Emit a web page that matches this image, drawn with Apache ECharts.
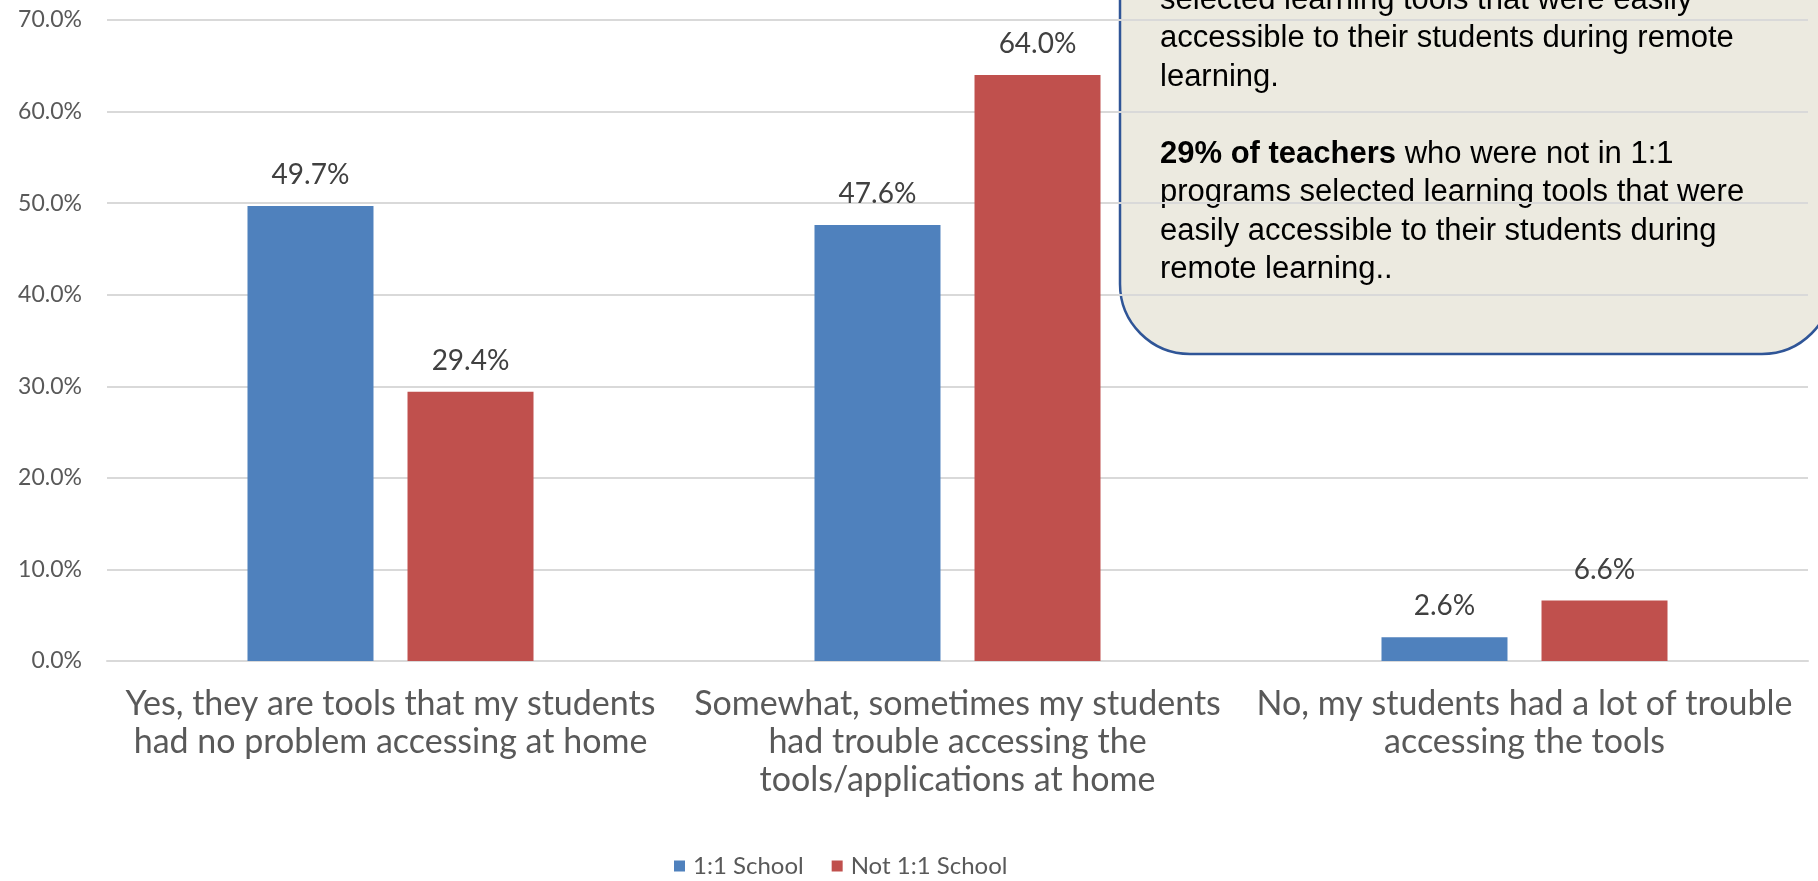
<!DOCTYPE html>
<html>
<head>
<meta charset="utf-8">
<script src="https://cdn.jsdelivr.net/npm/echarts@6/dist/echarts.min.js"></script>
<style>
html,body{margin:0;padding:0;background:#fff;}
#chart{width:1818px;height:881px;}
</style>
</head>
<body>
<div id="chart"></div>
<script>
const categories = [
  'Yes, they are tools that my students\nhad no problem accessing at home',
  'Somewhat, sometimes my students\nhad trouble accessing the\ntools/applications at home',
  'No, my students had a lot of trouble\naccessing the tools'
];
const seriesNames = ['1:1 School', 'Not 1:1 School'];
const oneToOne = [49.7, 47.6, 2.6];
const notOneToOne = [29.4, 64.0, 6.6];
const yTicks = { min: 0, max: 70, interval: 10 };
const noteLines = [
  'selected learning tools that were easily',
  'accessible to their students during remote',
  'learning.',
  '',
  '{b|29% of teachers} who were not in 1:1',
  'programs selected learning tools that were',
  'easily accessible to their students during',
  'remote learning..'
];

const chart = echarts.init(document.getElementById('chart'), null, { renderer: 'canvas' });
const chartFont = 'Lato';
const labelCommon = {
  show: true,
  position: 'top',
  distance: 17,
  fontFamily: chartFont,
  fontSize: 28,
  color: '#404040',
  formatter: p => p.value.toFixed(1) + '%'
};

chart.setOption({
  animation: false,
  backgroundColor: '#ffffff',
  grid: { left: 107, right: 10, top: 20, bottom: 220, containLabel: false },
  legend: {
    data: seriesNames,
    top: 854,
    left: 674,
    padding: 0,
    icon: 'rect',
    itemWidth: 11,
    itemHeight: 11,
    itemGap: 28,
    textStyle: { fontFamily: chartFont, fontSize: 24, color: '#595959', padding: [0, 0, 0, 3] }
  },
  xAxis: {
    type: 'category',
    data: categories,
    axisLine: { show: true, lineStyle: { color: '#D9D9D9', width: 2 } },
    axisTick: { show: false },
    axisLabel: {
      interval: 0,
      margin: 24,
      fontFamily: chartFont,
      fontSize: 34,
      lineHeight: 38,
      color: '#595959'
    }
  },
  yAxis: {
    type: 'value',
    min: yTicks.min,
    max: yTicks.max,
    interval: yTicks.interval,
    axisLine: { show: false },
    axisTick: { show: false },
    splitLine: { lineStyle: { color: '#D9D9D9', width: 2 } },
    axisLabel: {
      margin: 25,
      fontFamily: chartFont,
      fontSize: 23,
      color: '#595959',
      formatter: v => v.toFixed(1) + '%'
    }
  },
  series: [
    {
      name: seriesNames[0],
      type: 'bar',
      data: oneToOne,
      barWidth: 126,
      barGap: '27%',
      itemStyle: { color: '#4F81BD' },
      label: labelCommon
    },
    {
      name: seriesNames[1],
      type: 'bar',
      data: notOneToOne,
      barWidth: 126,
      barGap: '27%',
      itemStyle: { color: '#C0504D' },
      label: labelCommon
    }
  ],
  graphic: [
    {
      type: 'group',
      z: 100,
      children: [
        {
          type: 'rect',
          shape: { x: 1120, y: -120, width: 712, height: 474, r: 70 },
          style: { fill: '#ECEAE0', stroke: '#2F5597', lineWidth: 2.5 }
        },
        {
          type: 'text',
          x: 1160,
          y: -19,
          style: {
            text: noteLines.join('\n'),
            fontFamily: '"Liberation Sans", Arial, sans-serif',
            fontSize: 31,
            lineHeight: 38.5,
            fill: '#000000',
            verticalAlign: 'top',
            align: 'left',
            rich: {
              b: { fontFamily: '"Liberation Sans", Arial, sans-serif', fontSize: 31, fontWeight: 'bold', lineHeight: 38.5, fill: '#000000' }
            }
          }
        }
      ]
    }
  ]
});
</script>
</body>
</html>
